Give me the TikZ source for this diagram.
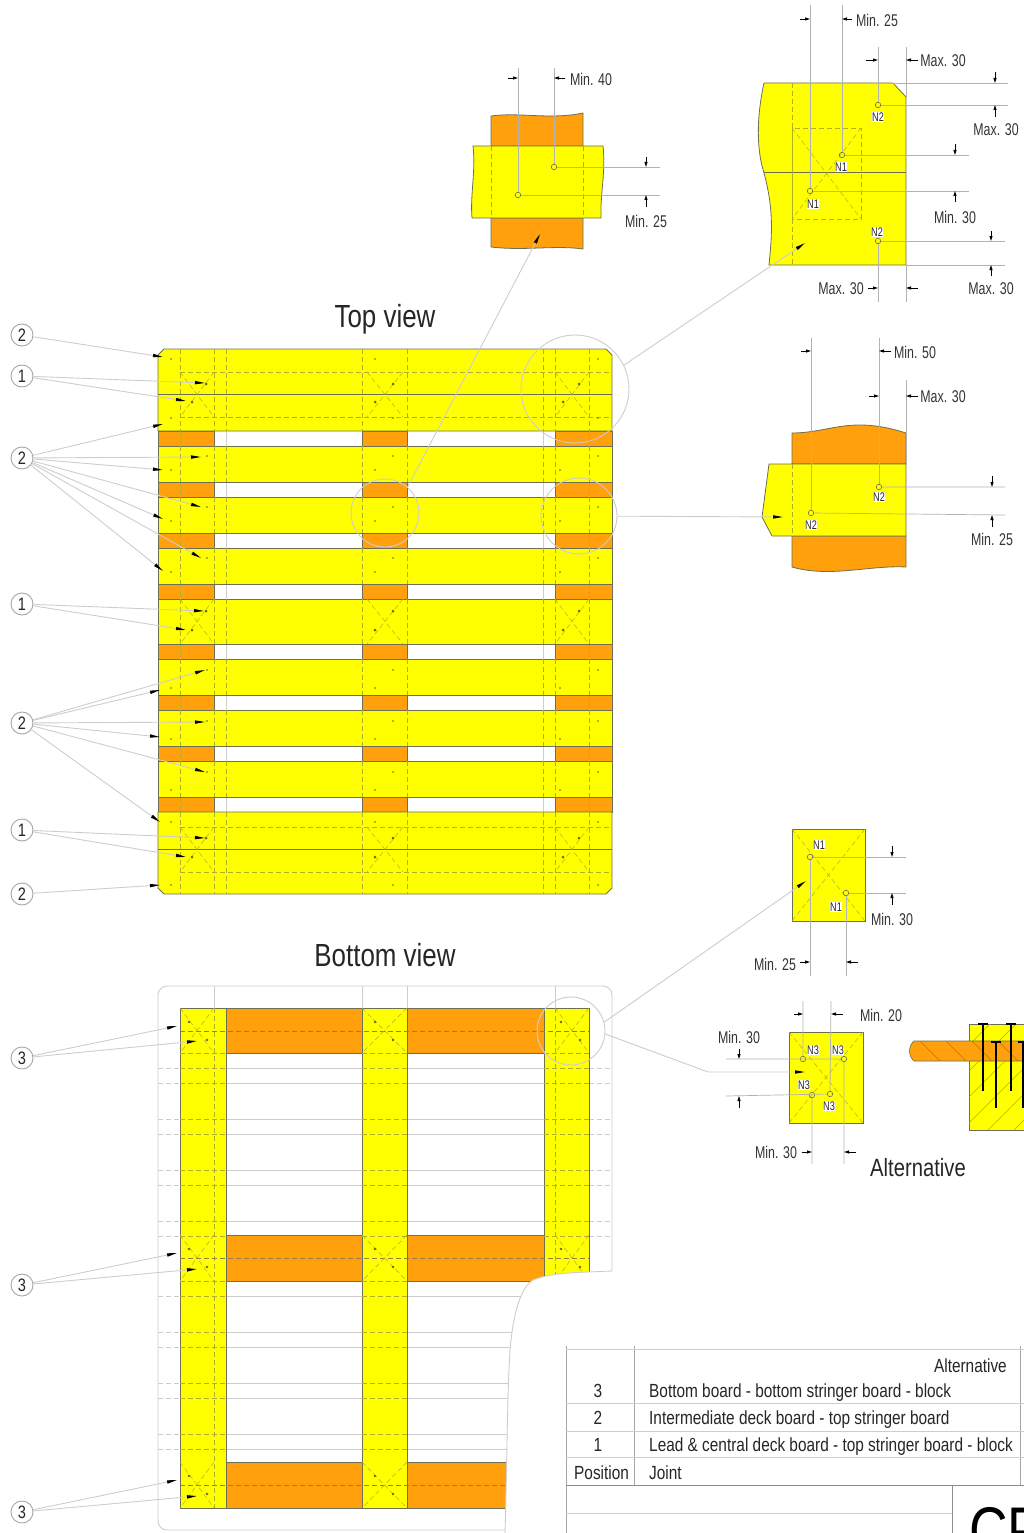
\documentclass[tikz,border=0pt]{standalone}
\usepackage{fontspec}
\setmainfont[FakeStretch=0.81]{Liberation Sans}
\newfontfamily\dimfont[FakeStretch=0.73]{Liberation Sans}
\usetikzlibrary{arrows.meta}
\definecolor{boardyellow}{HTML}{FFFF00}
\definecolor{blockorange}{HTML}{FFA00C}
\definecolor{edgegrey}{HTML}{6E6E50}
\definecolor{hiddenline}{HTML}{B0B020}
\definecolor{thingrey}{HTML}{CDCDCD}
\tikzset{
  board/.style={fill=boardyellow,draw=edgegrey,line width=.8pt},
  block/.style={fill=blockorange,draw=edgegrey,line width=.8pt},
  hidden/.style={draw=hiddenline,line width=.7pt,dash pattern=on 5pt off 3pt},
  thin line/.style={draw=thingrey,line width=.9pt},
  leader/.style={thin line,-{Triangle[length=10pt,width=3.2pt,black]}},
  extline/.style={draw=black!30,line width=.7pt},
  dimtip/.style={draw=black,line width=.9pt,-{Triangle[length=5pt,width=3pt,black]}},
  balloon/.style={circle,draw=black!35,line width=.9pt,fill=white,minimum size=22pt,inner sep=0pt,font=\fontsize{18}{18}\selectfont,text=black!85},
  dimtext/.style={font=\dimfont\fontsize{17}{17}\selectfont,text=black!80,inner sep=0pt},
  jointtag/.style={font=\dimfont\fontsize{12.5}{12}\selectfont,fill=white,inner sep=.6pt,text=black!85},
  hole/.style={circle,draw=edgegrey,line width=.6pt,minimum size=5.5pt,inner sep=0pt},
  nail dot/.style={fill=hiddenline!60!black},
  loupe/.style={circle,draw=thingrey,line width=.9pt,inner sep=0pt},
  viewtitle/.style={font=\fontsize{32}{32}\selectfont,text=black!85,inner sep=0pt},
  tabletext/.style={font=\fontsize{19}{19}\selectfont,text=black!85,inner sep=0pt,anchor=base west},
  nailpin/.style={draw=black,line width=1.6pt},
}
\newcommand{\hcross}[4]{\draw[hidden,line width=.5pt] (#1,#3) -- (#2,#4) (#2,#3) -- (#1,#4);}
\begin{document}
\begin{tikzpicture}[x=1pt,y=-1pt]
\useasboundingbox (0,0) rectangle (1024,1533);
\clip (0,0) rectangle (1024,1533);

% top view, grey lines seen through the gaps
\draw[thin line] (226,431) -- (226,812) (543,431) -- (543,812);
% top view, blocks
\foreach \ya/\yb in {431/446,482/497,533/548,584/599,644/659,695/710,746/761,797/812}{
  \draw[block] (158,\ya) rectangle (214,\yb);
  \draw[block] (362,\ya) rectangle (407,\yb);
  \draw[block] (555,\ya) rectangle (612,\yb);
  \draw[hidden] (180,\ya) -- (180,\yb) (589,\ya) -- (589,\yb);
}
% top view, deck boards
\draw[board] (164,349) -- (606,349) -- (612,355) -- (612,431) -- (158,431) -- (158,355) -- cycle;
\draw[board] (158,812) -- (612,812) -- (612,888) -- (606,894) -- (164,894) -- (158,888) -- cycle;
\foreach \ya/\yb in {446/482,497/533,548/584,599/644,659/695,710/746,761/797}{
  \draw[board] (158,\ya) rectangle (612,\yb);
}
\draw[edgegrey,line width=.9pt] (158,394) -- (612,394) (158,849) -- (612,849);
% hidden edges on the deck boards
\foreach \ya/\yb in {349/431,446/482,497/533,548/584,599/644,659/695,710/746,761/797,812/894}{
  \foreach \xa in {180,214,226,362,407,543,555,589}{
    \draw[hidden] (\xa,\ya) -- (\xa,\yb);
  }
}
\foreach \ya/\yb in {372/417,599/644,827/872}{
  \hcross{180}{214}{\ya}{\yb}
  \hcross{367}{403}{\ya}{\yb}
  \hcross{555}{589}{\ya}{\yb}
}
\foreach \yb in {372,417,827,872}{
  \draw[hidden] (180,\yb) -- (612,\yb);
}
% nails on the top view
\foreach \xa/\yb in {206/384,393/384,579/384,192/402,375/402,563/402,206/611,393/611,579/611,192/630,375/630,563/630,206/838,393/838,579/838,192/857,375/857,563/857}{
  \fill[nail dot] (\xa,\yb) circle (1.5pt);
}
\foreach \xa/\yb in {171/359,375/359,598/359,171/418,393/418,598/418,171/822,375/822,598/822,171/885,393/885,598/885}{
  \fill[nail dot] (\xa,\yb) circle (.9pt);
}
\foreach \yb in {456,507,558,670,721,772}{
  \foreach \xa in {207,393,598}{
    \fill[nail dot] (\xa,\yb) circle (.9pt);
  }
}
\foreach \yb in {470,521,572,688,739,790}{
  \foreach \xa in {171,375,560}{
    \fill[nail dot] (\xa,\yb) circle (.9pt);
  }
}

% bottom view, outline and the lines seen through it
\draw[thin line,rounded corners=9pt] (158,1271) -- (158,986) -- (612,986) -- (612,1271);
\draw[thin line] (158,1271) -- (158,1522) [rounded corners=9pt] -- (158,1530) -- (505,1530);
\foreach \xa in {214,362,407,555}{
  \draw[thin line] (\xa,986) -- (\xa,1008);
}
\foreach \yb in {1068,1083,1119,1134,1170,1185,1221,1236,1296,1332,1347,1383,1398,1434,1449}{
  \draw[thin line] (226,\yb) -- (362,\yb) (407,\yb) -- (544,\yb);
  \draw[hidden,draw=thingrey] (158,\yb) -- (180,\yb) (589,\yb) -- (612,\yb);
}
% bottom view, boards and stringers
\foreach \ya/\yb in {1008/1053,1235/1281,1462/1508}{
  \draw[block] (226,\ya) rectangle (362,\yb);
  \draw[block] (407,\ya) rectangle (544,\yb);
}
\foreach \xa/\xb in {180/226,362/407,544/589}{
  \draw[board] (\xa,1008) rectangle (\xb,1508);
}
% bottom view, hidden edges on the stringers
\foreach \xa in {214,555}{
  \draw[hidden] (\xa,1008) -- (\xa,1508);
}
\foreach \yb in {1031,1258,1485}{
  \draw[hidden,draw=edgegrey!70!blockorange,line width=.5pt] (180,\yb) -- (589,\yb);
}
\foreach \yb in {1053,1068,1083,1119,1134,1170,1185,1221,1236,1281,1296,1332,1347,1383,1398,1434,1449}{
  \foreach \xa/\xb in {180/226,362/407,544/589}{
    \draw[hidden] (\xa,\yb) -- (\xb,\yb);
  }
}
\foreach \ya/\yb in {1008/1053,1235/1281,1462/1508}{
  \hcross{180}{214}{\ya}{\yb}
  \hcross{362}{407}{\ya}{\yb}
  \hcross{555}{589}{\ya}{\yb}
  \foreach \xa/\yc in {189/14,207/32,375/14,393/32,561/14,580/32}{
    \fill[nail dot] (\xa,\ya+\yc) circle (1.4pt);
  }
}
% lower right corner is torn away
\fill[white] (612,1271) -- (588,1272) .. controls (565,1273) and (548,1274) .. (533,1280)
  .. controls (520,1288) and (513,1315) .. (510,1350) .. controls (507,1400) and (507,1470) .. (505,1533)
  -- (1024,1533) -- (1024,1271) -- cycle;
\draw[thin line] (612,1271) -- (588,1272) .. controls (565,1273) and (548,1274) .. (533,1280)
  .. controls (520,1288) and (513,1315) .. (510,1350) .. controls (507,1400) and (507,1470) .. (505,1533);

% titles
\node[viewtitle] (topview) at (385,319) {Top view};
\node[viewtitle] (bottomview) at (385,955) {Bottom view};

% balloons
\foreach \bal/\lab/\yb in {bala/2/335,balb/1/376,balc/2/458,bald/1/604,bale/2/723,balf/1/830,balg/2/894,balh/3/1058,bali/3/1285,balj/3/1512}{
  \node[balloon] (\bal) at (22,\yb) {\lab};
}
% leaders from the balloons
\foreach \bal/\tipname/\xb/\yb in {bala/ta/163/357,balb/tb/205/383,balb/tc/186/401,balc/td/163/424,balc/te/201/457,balc/tf/163/470,balc/tg/201/507,balc/th/163/519,balc/ti/201/558,balc/tj/163/571,bald/tk/204/611,bald/tl/186/630,bale/tm/205/670,bale/tn/160/690,bale/to/205/722,bale/tp/160/737,bale/tq/205/772,bale/tr/160/822,balf/ts/205/838,balf/tt/186/857,balg/tu/160/885,balh/tv/177/1026,balh/tw/197/1041,bali/tx/177/1253,bali/ty/197/1269,balj/tz/177/1480,balj/tza/197/1496}{
  \coordinate (\tipname) at (\xb,\yb);
  \draw[leader] (\bal) -- (\tipname);
}

% loupes
\node[loupe,minimum size=108pt] (loupea) at (575,389) {};
\node[loupe,minimum size=68pt] (loupeb) at (385,513) {};
\node[loupe,minimum size=76pt] (loupec) at (579,516) {};
\node[loupe,minimum size=68pt] (louped) at (571,1031) {};

% detail, middle block
\draw[block] (491,146) -- (491,116) .. controls (520,112) and (550,120) .. (583,113) -- (583,146) -- cycle;
\draw[block] (491,218) -- (583,218) -- (583,249) .. controls (555,245) and (525,251) .. (491,247) -- cycle;
\draw[board] (473,146) -- (603,146) .. controls (606,170) and (600,195) .. (601,218) -- (472,218) .. controls (470,195) and (476,170) .. (473,146) -- cycle;
\draw[hidden] (491,146) -- (491,218) (583,146) -- (583,218);
\node[hole] (holea) at (554,167) {};
\node[hole] (holeb) at (518,195) {};
\draw[extline] (holea) -- (554,68) (holeb) -- (518,68) (holea) -- (660,167) (holeb) -- (660,195);
\draw[dimtip] (508,78) -- (518,78);
\draw[dimtip] (565,78) -- (554,78);
\draw[dimtip] (646,157) -- (646,167);
\draw[dimtip] (646,207) -- (646,195);
\node[dimtext] (mina) at (591,79) {Min. 40};
\node[dimtext] (minb) at (646,221) {Min. 25};
\coordinate (tipa) at (540,234);
\draw[leader] (loupeb.49) -- (tipa);

% detail, corner of the lead board
\draw[board] (764,83) -- (893,83) -- (906,97) -- (906,265) -- (769,265)
  .. controls (772,235) and (774,210) .. (764,173) .. controls (755,145) and (758,110) .. (764,83) -- cycle;
\draw[edgegrey,line width=1pt] (764,173) -- (906,173);
\draw[hidden] (792,83) -- (792,265) (792,128) rectangle (861,219);
\hcross{792}{861}{128}{219}
\node[hole] (holec) at (878,105) {};
\node[hole] (holed) at (842,155) {};
\node[hole] (holee) at (810,191) {};
\node[hole] (holef) at (878,241) {};
\draw[extline] (holee) -- (810,5) (holed) -- (842,5) (holec) -- (878,47) (906,97) -- (906,47);
\draw[extline] (893,83) -- (1008,83) (holec) -- (1008,105) (holed) -- (969,155) (holee) -- (969,191);
\draw[extline] (holef) -- (1005,241) (906,265) -- (1005,265) (holef) -- (878,302) (906,265) -- (906,302);
\draw[dimtip] (800,19) -- (810,19);
\draw[dimtip] (852,19) -- (842,19);
\draw[dimtip] (866,60) -- (878,60);
\draw[dimtip] (918,60) -- (906,60);
\draw[dimtip] (995,72) -- (995,83);
\draw[dimtip] (995,117) -- (995,105);
\draw[dimtip] (955,144) -- (955,155);
\draw[dimtip] (955,202) -- (955,191);
\draw[dimtip] (991,231) -- (991,241);
\draw[dimtip] (991,276) -- (991,265);
\draw[dimtip] (868,288) -- (878,288);
\draw[dimtip] (918,288) -- (906,288);
\node[jointtag] (tagc) at (878,117) {N2};
\node[jointtag] (tagd) at (841,167) {N1};
\node[jointtag] (tage) at (813,204) {N1};
\node[jointtag] (tagf) at (877,232) {N2};
\node[dimtext] (minc) at (877,20) {Min. 25};
\node[dimtext] (maxa) at (943,61) {Max. 30};
\node[dimtext] (maxb) at (996,130) {Max. 30};
\node[dimtext] (mind) at (955,217) {Min. 30};
\node[dimtext] (maxc) at (991,289) {Max. 30};
\node[dimtext] (maxd) at (841,289) {Max. 30};
\coordinate (tipb) at (805,243);
\draw[leader] (loupea.26) -- (tipb);

% detail, right block
\draw[block] (792,464) -- (792,433) .. controls (830,433) and (850,415) .. (906,433) -- (906,464) -- cycle;
\draw[block] (792,536) -- (906,536) -- (906,567) .. controls (870,565) and (830,578) .. (792,567) -- cycle;
\draw[board] (769,464) -- (906,464) -- (906,536) -- (772,536) -- (762,517) -- cycle;
\draw[hidden] (792,464) -- (792,536);
\node[hole] (holeg) at (879,487) {};
\node[hole] (holeh) at (811,513) {};
\draw[extline] (holeh) -- (811,338) (holeg) -- (879,338) (906,464) -- (906,380);
\draw[extline] (holeg) -- (1005,487) (holeh) -- (1005,515);
\draw[dimtip] (801,351) -- (811,351);
\draw[dimtip] (891,351) -- (879,351);
\draw[dimtip] (869,396) -- (879,396);
\draw[dimtip] (918,396) -- (906,396);
\draw[dimtip] (992,476) -- (992,487);
\draw[dimtip] (992,527) -- (992,515);
\node[jointtag] (tagg) at (879,497) {N2};
\node[jointtag] (tagh) at (811,525) {N2};
\node[dimtext] (mine) at (915,352) {Min. 50};
\node[dimtext] (maxe) at (943,397) {Max. 30};
\node[dimtext] (minf) at (992,539) {Min. 25};
\coordinate (tipc) at (783,517);
\draw[leader] (loupec) -- (tipc);

% detail, block with two nails
\draw[board] (792,829) rectangle (865,921);
\hcross{792}{865}{829}{921}
\node[hole] (holei) at (810,857) {};
\node[hole] (holej) at (846,893) {};
\draw[extline] (holei) -- (906,857) (holej) -- (906,893) (holei) -- (810,976) (holej) -- (846,976);
\draw[dimtip] (892,846) -- (892,857);
\draw[dimtip] (892,905) -- (892,893);
\draw[dimtip] (800,962) -- (810,962);
\draw[dimtip] (858,962) -- (846,962);
\node[jointtag] (tagi) at (819,845) {N1};
\node[jointtag] (tagj) at (836,907) {N1};
\node[dimtext] (ming) at (892,919) {Min. 30};
\node[dimtext] (minh) at (775,964) {Min. 25};
\coordinate (tipd) at (806,881);
\draw[leader] (louped.15) -- (tipd);

% detail, alternative block
\draw[board] (789,1032) rectangle (863,1123);
\hcross{789}{863}{1032}{1123}
\node[hole] (holek) at (803,1059) {};
\node[hole] (holel) at (844,1059) {};
\node[hole] (holem) at (812,1095) {};
\node[hole] (holen) at (830,1094) {};
\draw[extline] (holek) -- (803,1001) (holen) -- (831,1001) (holem) -- (812,1164) (holel) -- (844,1164);
\draw[extline] (726,1059) -- (holel) (726,1096) -- (holen);
\draw[dimtip] (794,1014) -- (803,1014);
\draw[dimtip] (843,1014) -- (831,1014);
\draw[dimtip] (802,1152) -- (812,1152);
\draw[dimtip] (856,1152) -- (844,1152);
\draw[dimtip] (739,1049) -- (739,1059);
\draw[dimtip] (739,1108) -- (739,1096);
\node[jointtag] (tagk) at (813,1050) {N3};
\node[jointtag] (tagl) at (838,1050) {N3};
\node[jointtag] (tagm) at (804,1085) {N3};
\node[jointtag] (tagn) at (829,1106) {N3};
\node[dimtext] (mini) at (881,1015) {Min. 20};
\node[dimtext] (minj) at (776,1152) {Min. 30};
\node[dimtext] (mink) at (739,1037) {Min. 30};
\node[viewtitle,font=\fontsize{25}{25}\selectfont] (alttitle) at (918,1168) {Alternative};
\coordinate (tipe) at (805,1072);
\draw[leader] (louped.-5) -- (708,1072) -- (tipe);

% section through the nails
\draw[board] (969,1024) rectangle (1030,1130);
\begin{scope}
\clip (969,1024) rectangle (1030,1130);
\foreach \xa in {884,910,936,962,988,1014,1040}{
  \draw[hiddenline,line width=.6pt] (\xa,1130) -- (\xa+106,1024);
}
\end{scope}
\fill[blockorange] (1030,1041) -- (914,1041) .. controls (908,1046) and (908,1056) .. (914,1061) -- (1030,1061) -- cycle;
\draw[edgegrey,line width=.6pt] (1030,1041) -- (914,1041) .. controls (908,1046) and (908,1056) .. (914,1061) -- (1030,1061);
\begin{scope}
\clip (910,1041) rectangle (1030,1061);
\foreach \xa in {920,946,972,998,1024}{
  \draw[edgegrey!70!blockorange,line width=.5pt] (\xa,1041) -- (\xa+20,1061);
}
\end{scope}
\foreach \xa/\ya/\yb in {983/1024/1091,996/1042/1108,1011/1024/1091,1023/1042/1108}{
  \draw[nailpin] (\xa,\ya) -- (\xa,\yb);
  \draw[nailpin] (\xa-5,\ya) -- (\xa+5,\ya);
}

% table
\draw[thin line,draw=black!35] (566,1346) -- (566,1533) (634,1346) -- (634,1485) (1020,1346) -- (1020,1485);
\draw[thin line] (566,1349) -- (1024,1349) (566,1403) -- (1024,1403) (566,1431) -- (1024,1431) (566,1457) -- (1024,1457);
\draw[draw=black!45,line width=1pt] (566,1485) -- (1024,1485);
\draw[thin line] (566,1513) -- (952,1513);
\draw[draw=black!45,line width=.8pt] (952,1485) -- (952,1533);
\node[tabletext,anchor=base east] (cellalt) at (1007,1372) {Alternative};
\node[tabletext,anchor=base] (cella) at (598,1397) {3};
\node[tabletext] (cellb) at (649,1397) {Bottom board - bottom stringer board - block};
\node[tabletext,anchor=base] (cellc) at (598,1424) {2};
\node[tabletext] (celld) at (649,1424) {Intermediate deck board - top stringer board};
\node[tabletext,anchor=base] (celle) at (598,1451) {1};
\node[tabletext] (cellf) at (649,1451) {Lead \& central deck board - top stringer board - block};
\node[tabletext] (cellg) at (574,1479) {Position};
\node[tabletext] (cellh) at (649,1479) {Joint};
\node[anchor=base west,inner sep=0pt,font=\fontsize{66}{66}\selectfont] (sheetname) at (969,1553) {CP};
\end{tikzpicture}
\end{document}
